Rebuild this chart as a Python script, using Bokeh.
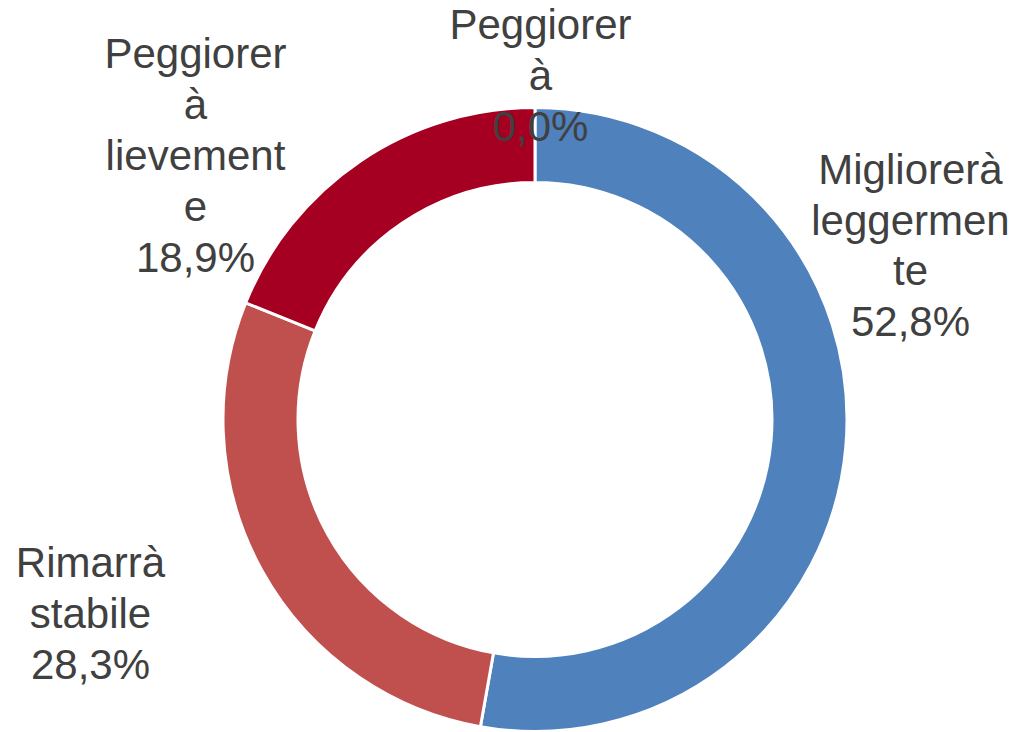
import math
from bokeh.plotting import figure
from bokeh.models import Range1d, ColumnDataSource
from bokeh.core.properties import value
from bokeh.embed import file_html
from bokeh.resources import INLINE

# ---- data ----
categories = ["Migliorerà leggermente", "Rimarrà stabile", "Peggiorerà lievemente", "Peggiorerà"]
values = [52.8, 28.3, 18.9, 0.0]
label_texts = ["Migliorerà\nleggermen\nte\n52,8%", "Rimarrà\nstabile\n28,3%",
               "Peggiorer\nà\nlievement\ne\n18,9%", "Peggiorer\nà\n0,0%"]
colors = ["#4F81BD", "#C0504D", "#A50021", "#8064A2"]

# ---- layout (page pixels, y measured upward) ----
W, H = 1024, 732
cx, cy = 534.5, 313.0
r_out, r_in = 312.0, 237.0
label_anchor = [(910, 487), (90, 119), (195, 577), (540, 657)]

total = sum(values)
rows = dict(cat=[], val=[], start=[], end=[], color=[])
acc = 0.0
for c, v, col in zip(categories, values, colors):
    s = math.pi / 2 - 2 * math.pi * acc / total
    acc += v
    e = math.pi / 2 - 2 * math.pi * acc / total
    if v > 0:
        rows["cat"].append(c)
        rows["val"].append(v)
        rows["start"].append(s)
        rows["end"].append(e)
        rows["color"].append(col)

src = ColumnDataSource(rows)

p = figure(width=W, height=H, output_backend="svg", toolbar_location=None,
           x_range=Range1d(0, W), y_range=Range1d(0, H),
           min_border=0, tools="")
p.axis.visible = False
p.grid.visible = False
p.outline_line_color = None
p.background_fill_color = "white"

p.annular_wedge(x=cx, y=cy, inner_radius=r_in, outer_radius=r_out,
                start_angle="start", end_angle="end", direction="clock",
                fill_color="color", line_color="white", line_width=3, source=src)

lsrc = ColumnDataSource(dict(x=[a[0] for a in label_anchor], y=[a[1] for a in label_anchor],
                             t=label_texts))
p.text(x="x", y="y", text="t", source=lsrc, text_font=value("Liberation Sans"),
       text_font_size="42px", text_color="#404040", text_align="center",
       text_baseline="middle", text_line_height=1.08)

open("out.html", "w").write(file_html(p, INLINE))
